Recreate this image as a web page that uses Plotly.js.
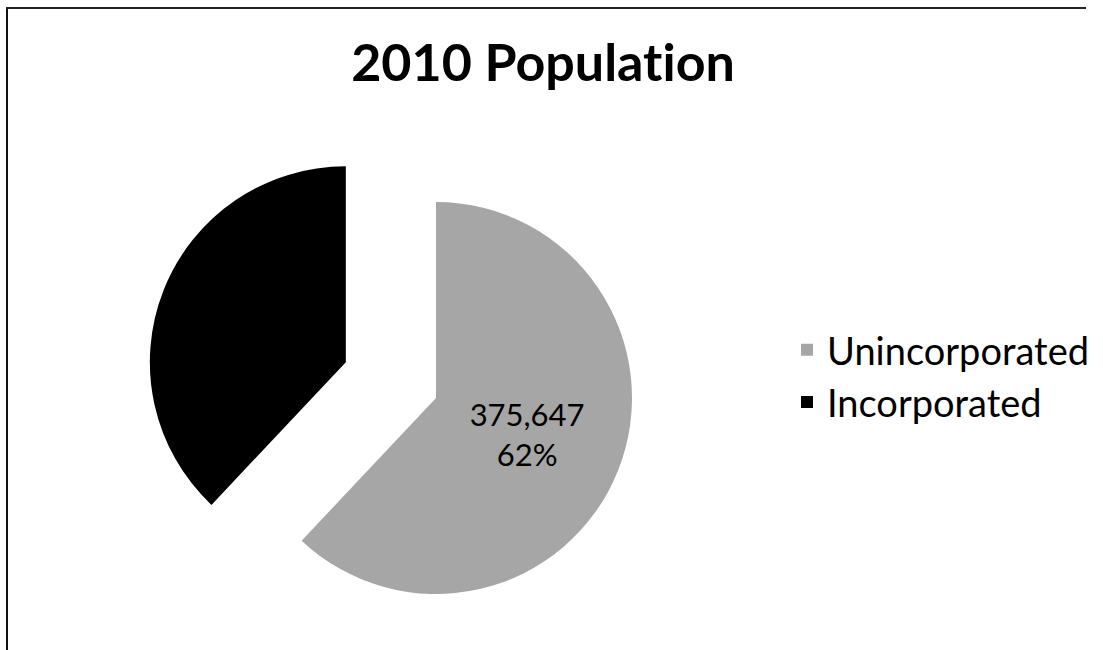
<!DOCTYPE html>
<html>
<head>
<meta charset="utf-8">
<script src="https://cdn.plot.ly/plotly-3.0.1.min.js"></script>
<style>
  html, body { margin: 0; padding: 0; overflow: hidden; background: #fff; width: 1103px; height: 650px; }
  #chart { position: absolute; left: 0; top: 0; }
  svg text { font-variant-ligatures: none; font-feature-settings: "liga" 0, "clig" 0; }
</style>
</head>
<body>
<div id="chart"></div>
<script>
// Data
const chartTitle = "2010 Population";
const categories = ["Unincorporated", "Incorporated"];
const populations = [375647, 230000];
const sliceColors = ["#a6a6a6", "#000000"];
const slicePull = [0, 0.495];
const labelTemplates = ["%{value:,}<br>%{percent:.0%}", ""];

const W = 1103, H = 700;
const fontFam = "Lato, 'Open Sans', sans-serif";

const trace = {
  type: "pie",
  labels: categories,
  values: populations,
  sort: false,
  direction: "clockwise",
  rotation: 0,
  pull: slicePull,
  marker: { colors: sliceColors, line: { width: 0 } },
  texttemplate: labelTemplates,
  textposition: "inside",
  insidetextorientation: "horizontal",
  insidetextfont: { family: fontFam, size: 31, color: "#000" },
  hoverinfo: "label+value+percent",
  domain: { x: [143 / W, 729 / W], y: [9 / H, 595 / H] }
};

const layout = {
  width: W,
  height: H,
  margin: { l: 0, r: 0, t: 0, b: 0 },
  paper_bgcolor: "#ffffff",
  font: { family: fontFam, color: "#000" },
  title: {
    text: "<b>" + chartTitle + "</b>",
    font: { family: fontFam, size: 52, color: "#000" },
    x: 543 / W, xanchor: "center",
    y: 1 - 63 / H, yanchor: "middle",
    xref: "container", yref: "container"
  },
  showlegend: true,
  legend: {
    x: 787 / W, xanchor: "left",
    y: 1 - 376 / H, yanchor: "middle",
    font: { family: fontFam, size: 38, color: "#000" },
    bgcolor: "rgba(0,0,0,0)",
    traceorder: "normal"
  },
  shapes: [
    { type: "line", xref: "paper", yref: "paper", x0: 7 / W, x1: 7 / W, y0: 0, y1: 1 - 7 / H,
      line: { color: "#111", width: 2 } },
    { type: "line", xref: "paper", yref: "paper", x0: 6 / W, x1: 1086 / W, y0: 1 - 8 / H, y1: 1 - 8 / H,
      line: { color: "#222", width: 2 } }
  ]
};

Plotly.newPlot("chart", [trace], layout, { displayModeBar: false, staticPlot: true });
</script>
</body>
</html>
